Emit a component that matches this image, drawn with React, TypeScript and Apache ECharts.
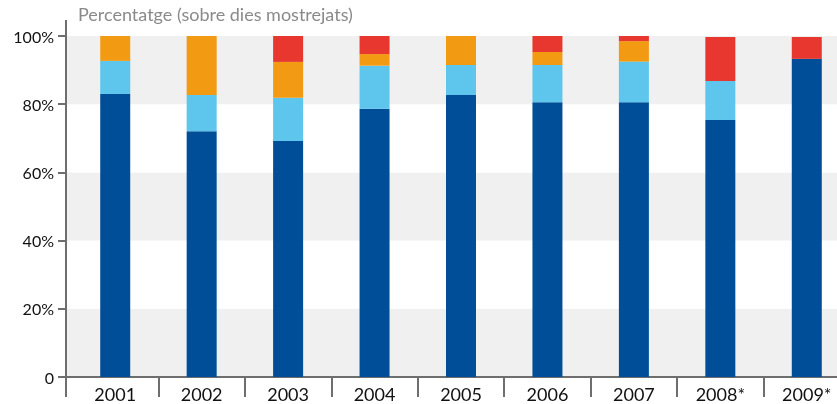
import React, { useEffect, useRef } from "react";
import * as echarts from "echarts";

const categories = ["2001", "2002", "2003", "2004", "2005", "2006", "2007", "2008*", "2009*"];
const darkBlue = [83, 72.1, 69.2, 78.7, 82.7, 80.6, 80.6, 75.4, 93.3];
const lightBlue = [9.7, 10.6, 12.7, 12.6, 8.8, 10.9, 11.9, 11.4, 0];
const orange = [7.3, 17.3, 10.5, 3.4, 8.5, 3.8, 6.0, 0, 0];
const red = [0, 0, 7.6, 5.3, 0, 4.7, 1.5, 12.9, 6.4];
const yTicks = [0, 20, 40, 60, 80, 100];

const FONT = "Lato";

export default function App() {
  const ref = useRef<HTMLDivElement>(null);
  useEffect(() => {
    if (!ref.current) return;
    const chart = echarts.init(ref.current, null, { renderer: "svg" });
    const mk = (name: string, data: number[], color: string) => ({
      name,
      type: "bar",
      stack: "total",
      data,
      barWidth: 30,
      itemStyle: { color },
    });
    chart.setOption({
      animation: false,
      textStyle: { fontFamily: FONT },
      grid: { left: 72, right: 0, top: 36, bottom: 27 },
      xAxis: {
        type: "category",
        data: categories,
        axisLine: { show: true, lineStyle: { color: "#6e6e6e", width: 2 } },
        axisTick: {
          show: true,
          length: 20,
          interval: (i: number) => i !== 0,
          lineStyle: { color: "#6e6e6e", width: 2 },
        },
        axisLabel: { color: "#111", fontSize: 18, margin: 8, lineHeight: 18, fontFamily: FONT, interval: 0 },
      },
      yAxis: {
        type: "value",
        min: 0,
        max: 100,
        interval: 20,
        offset: 6,
        axisLine: { show: false },
        axisTick: { show: true, length: 8, lineStyle: { color: "#6e6e6e", width: 2 } },
        axisLabel: {
          color: "#111",
          fontSize: 16,
          margin: 12,
          fontFamily: FONT,
          formatter: (v: number) => (v === 0 ? "0" : yTicks.includes(v) ? v + "%" : ""),
        },
        splitLine: { show: false },
        splitArea: { show: true, areaStyle: { color: ["#eff0ef", "#ffffff"] } },
      },
      graphic: [
        { type: "rect", shape: { x: 66, y: 36, width: 6, height: 68.2 }, style: { fill: "#eff0ef" }, z: -1 },
        { type: "rect", shape: { x: 66, y: 172.4, width: 6, height: 68.2 }, style: { fill: "#eff0ef" }, z: -1 },
        { type: "rect", shape: { x: 66, y: 308.8, width: 6, height: 68.2 }, style: { fill: "#eff0ef" }, z: -1 },
        { type: "line", shape: { x1: 66, y1: 377, x2: 72, y2: 377 }, style: { stroke: "#6e6e6e", lineWidth: 2 } },
        { type: "line", shape: { x1: 66, y1: 20, x2: 66, y2: 397 }, style: { stroke: "#6e6e6e", lineWidth: 2 }, z: 10 },
        {
          type: "text",
          left: 78,
          top: 5,
          style: {
            text: "Percentatge (sobre dies mostrejats)",
            fill: "#8a8a8a",
            fontSize: 18,
            fontFamily: FONT,
          },
        },
      ],
      series: [
        mk("dark", darkBlue, "#004e98"),
        mk("light", lightBlue, "#5ec5ec"),
        mk("orange", orange, "#f39a13"),
        mk("red", red, "#e8372f"),
      ],
    });
    return () => chart.dispose();
  }, []);
  return <div ref={ref} style={{ position: "fixed", left: 0, top: 0, width: 850, height: 404 }} />;
}
